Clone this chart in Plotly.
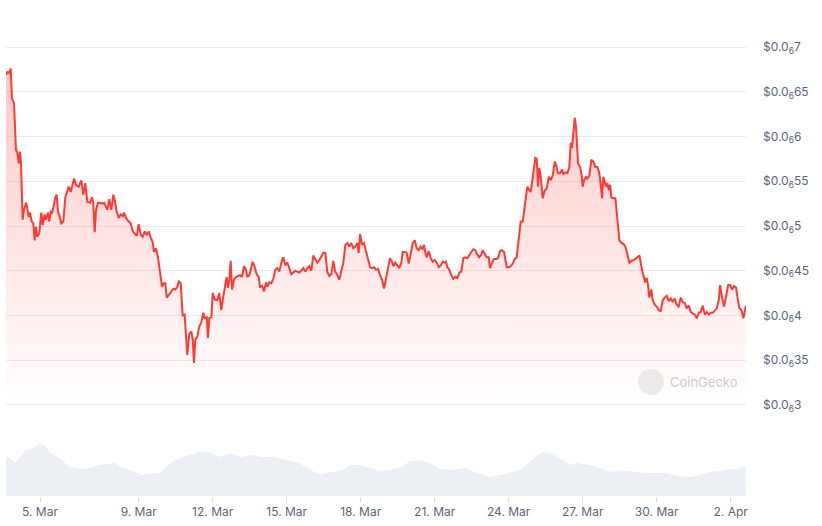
import pandas as pd
import plotly.graph_objects as go

# ---- data (hours since start, price in millionths of USD) ----
start_time = "2025-03-03 14:55"

price_hours = [0, 1.3, 3.2, 4.6, 5.8, 7.8, 9.7, 11.0, 12.4, 13.6, 14.6, 16.2, 17.5, 19.5, 20.7, 22.1, 23.4, 25.0, 26.6, 27.9,
               29.2, 30.4, 32.4, 34.3, 35.7, 37.6, 38.9, 40.9, 42.1, 43.5, 44.8, 46.0, 48.0, 49.3, 50.6, 51.9, 53.8, 55.8, 57.7, 59.1,
               61.0, 63.0, 64.9, 66.2, 68.1, 70.7, 73.3, 75.2, 77.2, 79.1, 81.7, 83.7, 84.9, 86.3, 87.6, 89.5, 91.5, 93.4, 95.4, 97.3,
               98.6, 100.5, 102.5, 104.4, 105.8, 107.7, 109.7, 111.6, 113.6, 114.8, 116.8, 119.4, 121.3, 123.3, 125.2, 127.2, 129.1, 131.1, 133.0, 135.0,
               136.9, 138.8, 140.8, 142.7, 144.0, 146.0, 147.9, 149.8, 151.8, 153.7, 155.0, 156.4, 158.3, 160.3, 162.8, 164.8, 166.7, 168.1, 170.0, 171.9,
               173.8, 176.4, 178.4, 180.3, 181.7, 182.9, 184.2, 186.1, 188.1, 190.0, 192.0, 193.3, 195.3, 196.5, 197.8, 199.8, 201.1, 203.1, 205.6, 207.5,
               209.5, 211.4, 213.4, 214.7, 216.0, 217.3, 218.6, 219.9, 221.8, 223.8, 225.7, 227.7, 229.6, 231.6, 233.5, 234.8, 236.7, 238.7, 240.0, 242.0,
               243.9, 245.9, 247.1, 249.1, 251.0, 253.0, 254.2, 256.2, 258.1, 260.1, 262.0, 264.0, 265.9, 267.9, 269.8, 271.8, 273.7, 275.7, 277.6, 279.5,
               281.5, 283.4, 285.4, 287.3, 289.3, 291.2, 293.2, 295.1, 297.1, 299.0, 301.0, 302.9, 304.9, 306.8, 308.7, 310.7, 312.6, 314.6, 316.5, 318.5,
               320.4, 322.4, 324.3, 326.3, 328.2, 330.2, 332.1, 334.0, 336.0, 337.9, 339.9, 341.8, 343.2, 344.5, 346.4, 348.3, 350.3, 352.2, 354.2, 356.1,
               358.1, 360.0, 362.0, 363.9, 365.9, 367.8, 369.7, 371.7, 373.6, 375.6, 376.9, 378.8, 380.8, 382.7, 384.7, 386.0, 388.0, 389.9, 391.9, 393.8,
               395.8, 397.7, 399.6, 401.6, 403.5, 405.5, 406.7, 408.0, 409.4, 411.3, 413.3, 415.2, 417.2, 419.1, 421.1, 423.0, 424.9, 426.9, 428.1, 429.4,
               431.4, 433.3, 435.2, 437.2, 439.1, 441.1, 443.0, 445.0, 446.9, 448.9, 450.8, 452.8, 454.7, 456.7, 458.6, 460.5, 462.5, 463.8, 465.8, 467.7,
               469.7, 470.9, 472.9, 474.8, 476.8, 478.7, 480.7, 482.6, 484.6, 485.8, 487.2, 489.1, 491.1, 493.0, 495.0, 496.9, 498.9, 500.8, 502.8, 504.0,
               506.0, 507.2, 509.2, 510.5, 511.8, 513.7, 515.0, 516.4, 517.6, 518.9, 520.3, 522.2, 524.2, 526.1, 528.1, 530.0, 532.0, 533.9, 535.2, 537.1,
               539.0, 541.0, 542.3, 544.2, 546.2, 548.1, 549.5, 550.7, 552.0, 553.4, 554.6, 556.6, 558.5, 559.8, 561.2, 562.4, 564.4, 565.6, 567.6, 569.5,
               571.5, 573.4, 575.4, 577.3, 578.7, 579.9, 581.2, 582.6, 583.9, 585.1, 586.5, 587.7, 589.0, 591.0, 592.9, 594.9, 596.8, 598.8, 600.7, 602.7,
               604.6, 606.5, 608.5, 610.4, 612.4, 614.3, 616.3, 618.8, 620.7, 622.0, 623.4, 624.7, 625.9, 627.9, 629.2, 631.2, 633.1, 635.1, 637.0, 639.0,
               640.9, 642.9, 644.8, 646.8, 648.7, 650.6, 652.6, 654.5, 656.5, 658.4, 660.4, 662.3, 664.3, 666.2, 668.2, 670.1, 672.1, 674.0, 676.0, 677.9,
               679.9, 681.8, 683.8, 685.7, 687.7, 689.6, 691.5, 693.5, 694.8, 696.7, 698.7, 700.6, 702.6, 704.5, 706.5, 708.4, 710.4, 711.6, 713.6, 715.5,
               717.5, 719.4, 720.0]

price_musd = [0.669, 0.672, 0.671, 0.676, 0.643, 0.637, 0.585, 0.582, 0.570, 0.583, 0.570, 0.507, 0.518, 0.526, 0.520, 0.510, 0.515, 0.505, 0.503, 0.484,
              0.499, 0.488, 0.492, 0.515, 0.501, 0.513, 0.507, 0.515, 0.505, 0.516, 0.515, 0.520, 0.532, 0.535, 0.516, 0.512, 0.503, 0.505, 0.532, 0.538,
              0.544, 0.538, 0.546, 0.553, 0.546, 0.544, 0.551, 0.535, 0.548, 0.527, 0.526, 0.532, 0.526, 0.493, 0.518, 0.526, 0.526, 0.525, 0.526, 0.521,
              0.518, 0.530, 0.518, 0.535, 0.529, 0.516, 0.509, 0.513, 0.511, 0.515, 0.509, 0.505, 0.503, 0.494, 0.492, 0.489, 0.502, 0.490, 0.488, 0.494,
              0.490, 0.494, 0.487, 0.482, 0.471, 0.475, 0.465, 0.451, 0.432, 0.436, 0.436, 0.420, 0.423, 0.425, 0.430, 0.429, 0.432, 0.438, 0.436, 0.400,
              0.401, 0.356, 0.380, 0.382, 0.373, 0.347, 0.373, 0.376, 0.388, 0.392, 0.403, 0.397, 0.398, 0.375, 0.397, 0.398, 0.425, 0.418, 0.417, 0.425,
              0.406, 0.421, 0.432, 0.443, 0.431, 0.440, 0.461, 0.429, 0.440, 0.443, 0.444, 0.445, 0.443, 0.455, 0.451, 0.443, 0.445, 0.454, 0.460, 0.454,
              0.446, 0.443, 0.432, 0.433, 0.427, 0.437, 0.432, 0.437, 0.436, 0.441, 0.451, 0.453, 0.449, 0.459, 0.465, 0.456, 0.459, 0.453, 0.446, 0.448,
              0.450, 0.449, 0.448, 0.450, 0.453, 0.449, 0.453, 0.455, 0.450, 0.467, 0.463, 0.459, 0.462, 0.467, 0.470, 0.470, 0.449, 0.444, 0.446, 0.461,
              0.449, 0.445, 0.440, 0.450, 0.459, 0.479, 0.481, 0.477, 0.481, 0.475, 0.477, 0.481, 0.470, 0.491, 0.479, 0.481, 0.471, 0.462, 0.454, 0.453,
              0.454, 0.451, 0.452, 0.445, 0.440, 0.430, 0.440, 0.454, 0.464, 0.460, 0.455, 0.459, 0.456, 0.453, 0.459, 0.471, 0.471, 0.470, 0.458, 0.471,
              0.481, 0.484, 0.475, 0.473, 0.477, 0.474, 0.479, 0.470, 0.465, 0.472, 0.464, 0.460, 0.462, 0.459, 0.454, 0.456, 0.460, 0.459, 0.460, 0.454,
              0.451, 0.445, 0.441, 0.443, 0.442, 0.448, 0.449, 0.464, 0.465, 0.464, 0.468, 0.471, 0.474, 0.473, 0.468, 0.465, 0.468, 0.473, 0.469, 0.465,
              0.465, 0.453, 0.459, 0.463, 0.463, 0.464, 0.472, 0.473, 0.471, 0.464, 0.454, 0.454, 0.455, 0.458, 0.463, 0.465, 0.484, 0.505, 0.505, 0.515,
              0.532, 0.544, 0.540, 0.538, 0.548, 0.566, 0.576, 0.575, 0.544, 0.565, 0.555, 0.531, 0.540, 0.542, 0.555, 0.551, 0.557, 0.572, 0.568, 0.559,
              0.559, 0.563, 0.558, 0.560, 0.559, 0.566, 0.593, 0.587, 0.605, 0.621, 0.611, 0.570, 0.566, 0.559, 0.544, 0.551, 0.555, 0.553, 0.556, 0.574,
              0.572, 0.566, 0.566, 0.559, 0.546, 0.531, 0.555, 0.548, 0.544, 0.548, 0.540, 0.546, 0.532, 0.531, 0.531, 0.507, 0.484, 0.481, 0.480, 0.477,
              0.468, 0.459, 0.461, 0.462, 0.463, 0.465, 0.467, 0.451, 0.443, 0.437, 0.442, 0.434, 0.420, 0.429, 0.417, 0.412, 0.410, 0.406, 0.405, 0.417,
              0.420, 0.422, 0.416, 0.419, 0.415, 0.419, 0.412, 0.410, 0.420, 0.415, 0.414, 0.408, 0.411, 0.404, 0.402, 0.401, 0.397, 0.403, 0.404, 0.411,
              0.401, 0.404, 0.401, 0.403, 0.403, 0.406, 0.408, 0.417, 0.434, 0.420, 0.410, 0.421, 0.434, 0.434, 0.429, 0.433, 0.431, 0.421, 0.408, 0.406,
              0.397, 0.408, 0.411]

volume_hours = [0, 4, 9, 14, 18, 26, 33, 38, 43, 53, 62, 72, 82, 91, 106, 114, 124, 132, 150, 160,
                169, 179, 189, 201, 208, 218, 228, 240, 247, 260, 273, 286, 296, 306, 318, 328, 335, 344, 354, 364,
                383, 393, 403, 413, 422, 432, 447, 458, 471, 481, 490, 500, 507, 515, 522, 529, 536, 542, 549, 556,
                568, 578, 588, 597, 607, 620, 630, 643, 653, 666, 675, 685, 695, 704, 711, 717, 720]
volume_musd = [39, 38, 33, 39, 45, 48, 52, 50, 43, 37, 29, 27, 28, 31, 33, 28, 25, 21, 23, 33,
               38, 41, 44, 43, 39, 43, 39, 41, 39, 39, 36, 33, 26, 22, 24, 26, 31, 31, 28, 25,
               28, 35, 36, 33, 27, 26, 28, 23, 19, 21, 23, 26, 31, 39, 44, 43, 39, 36, 31, 33,
               31, 28, 24, 26, 25, 23, 23, 23, 20, 19, 21, 24, 25, 27, 26, 29, 29]

price_ticks = [0.30, 0.35, 0.40, 0.45, 0.50, 0.55, 0.60, 0.65, 0.70]
price_tick_text = ["$0.0<sub>6</sub>3", "$0.0<sub>6</sub>35", "$0.0<sub>6</sub>4", "$0.0<sub>6</sub>45",
                   "$0.0<sub>6</sub>5", "$0.0<sub>6</sub>55", "$0.0<sub>6</sub>6", "$0.0<sub>6</sub>65",
                   "$0.0<sub>6</sub>7"]
date_ticks = ["2025-03-05", "2025-03-09", "2025-03-12", "2025-03-15", "2025-03-18",
              "2025-03-21", "2025-03-24", "2025-03-27", "2025-03-30", "2025-04-02"]
date_tick_text = ["5. Mar", "9. Mar", "12. Mar", "15. Mar", "18. Mar",
                  "21. Mar", "24. Mar", "27. Mar", "30. Mar", "2. Apr"]

t0 = pd.Timestamp(start_time)
price_time = t0 + pd.to_timedelta(price_hours, unit="h")
volume_time = t0 + pd.to_timedelta(volume_hours, unit="h")

LABEL = "#58667e"
RED = "#ff3a33"

fig = go.Figure()

fig.add_trace(go.Scatter(
    x=volume_time, y=volume_musd, yaxis="y2", mode="lines",
    line=dict(width=0, color="#eceff3"), fill="tozeroy", fillcolor="#eceff3",
    hoverinfo="skip", showlegend=False,
))

fig.add_trace(go.Scatter(
    x=price_time, y=price_musd, mode="lines",
    line=dict(color=RED, width=2),
    fill="tozeroy",
    fillgradient=dict(type="vertical", start=0.30, stop=0.68,
                      colorscale=[[0, "rgba(255,58,51,0.0)"], [1, "rgba(255,58,51,0.28)"]]),
    showlegend=False,
))

fig.update_layout(
    width=822, height=526,
    margin=dict(l=6, r=76, t=20, b=30),
    paper_bgcolor="white", plot_bgcolor="white",
    font=dict(family="Inter, Roboto, sans-serif", size=12, color=LABEL),
    xaxis=dict(
        range=[t0, t0 + pd.Timedelta(hours=720)],
        tickvals=date_ticks, ticktext=date_tick_text,
        showgrid=False, zeroline=False, showline=False,
        ticks="outside", ticklen=5, tickcolor="#d9dde3",
        anchor="free", position=0,
        tickfont=dict(size=12, color=LABEL),
    ),
    yaxis=dict(
        domain=[0.1807, 1.0], range=[0.2944, 0.7302],
        side="right", tickvals=price_ticks, ticktext=price_tick_text,
        showgrid=True, gridcolor="#e9ebef", gridwidth=1,
        zeroline=False, showline=False, ticks="",
        ticklabelstandoff=16,
        tickfont=dict(size=12, color=LABEL),
    ),
    yaxis2=dict(
        domain=[0, 0.126], range=[0, 60],
        showgrid=False, zeroline=False, showticklabels=False, showline=False,
    ),
    shapes=[dict(type="circle", xref="paper", yref="paper",
                 x0=(638 - 6) / 740, x1=(664 - 6) / 740,
                 y0=(496 - 395) / 476, y1=(496 - 369) / 476,
                 fillcolor="rgba(200,200,200,0.35)", line=dict(width=0), layer="above")],
    annotations=[dict(text="CoinGecko", xref="paper", yref="paper",
                      x=(668 - 6) / 740, y=(496 - 382) / 476, xanchor="left", yanchor="middle",
                      showarrow=False, font=dict(size=13, color="rgba(190,190,190,0.8)"))],
)

fig.write_html("out.html", config={"displayModeBar": False},
               post_script="document.body.style.margin='0';")
